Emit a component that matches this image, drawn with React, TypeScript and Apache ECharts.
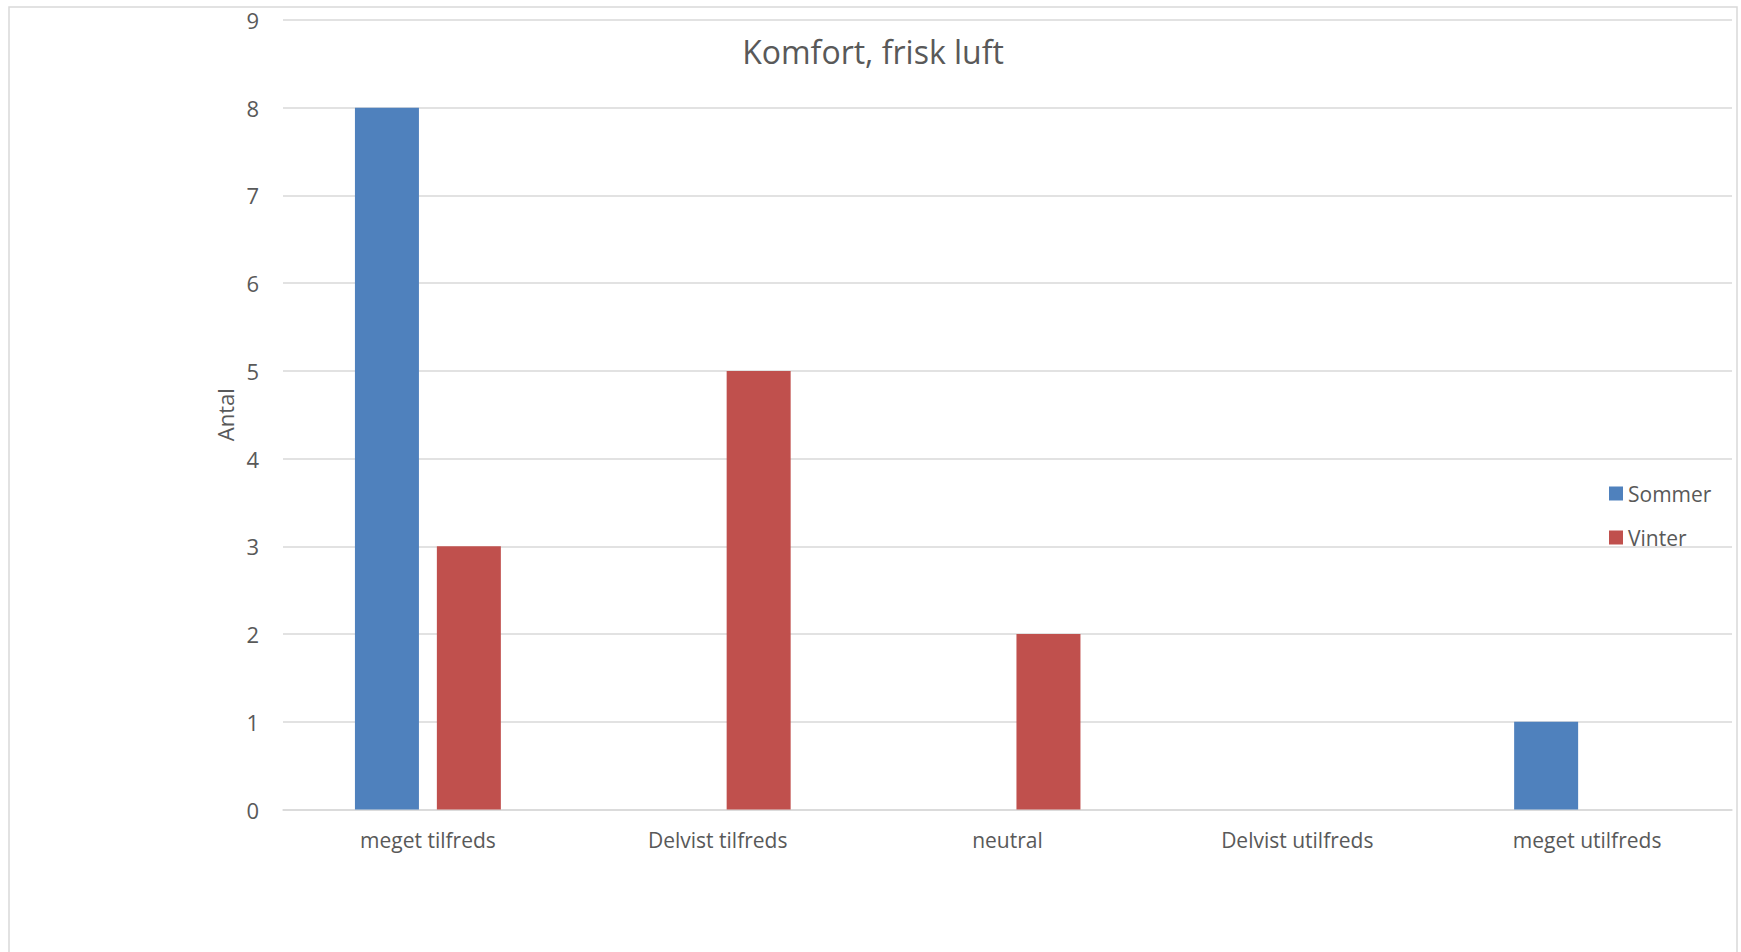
import React, { useEffect, useRef } from "react";
import * as echarts from "echarts";

const categories = ["meget tilfreds", "Delvist tilfreds", "neutral", "Delvist utilfreds", "meget utilfreds"];
const sommer = [8, 0, 0, 0, 1];
const vinter = [3, 5, 2, 0, 0];
const seriesNames = ["Sommer", "Vinter"];
const chartTitle = "Komfort, frisk luft";
const yAxisName = "Antal";

const FONT = '"Open Sans", "Noto Sans", sans-serif';
const TEXT = "#595959";
const GRID = "#D9D9D9";

export default function App() {
  const ref = useRef<HTMLDivElement>(null);
  useEffect(() => {
    if (!ref.current) return;
    const chart = echarts.init(ref.current, undefined, { renderer: "svg" });
    chart.setOption({
      animation: false,
      backgroundColor: "#ffffff",
      textStyle: { fontFamily: FONT, color: TEXT },
      graphic: [
        {
          type: "rect",
          shape: { x: 9, y: 7, width: 1728, height: 980 },
          style: { fill: "none", stroke: GRID, lineWidth: 1.5 },
          silent: true,
        },
        {
          type: "text",
          x: 873,
          y: 51,
          style: {
            text: chartTitle,
            fill: TEXT,
            font: `32px ${FONT}`,
            align: "center",
            verticalAlign: "middle",
          },
        },
      ],
      legend: {
        orient: "vertical",
        left: 1609,
        top: 483,
        padding: 0,
        itemWidth: 14,
        itemHeight: 14,
        itemGap: 23,
        icon: "rect",
        data: seriesNames,
        textStyle: { fontFamily: FONT, fontSize: 21, color: TEXT },
      },
      grid: { left: 283, right: 9, top: 20, bottom: 142.5, containLabel: false },
      xAxis: {
        type: "category",
        data: categories,
        axisLine: { show: true, lineStyle: { color: GRID, width: 1.5 } },
        axisTick: { show: false },
        axisLabel: { fontFamily: FONT, fontSize: 21, color: TEXT, margin: 20 },
        splitLine: { show: false },
      },
      yAxis: {
        type: "value",
        min: 0,
        max: 9,
        interval: 1,
        name: yAxisName,
        nameLocation: "middle",
        nameGap: 45,
        nameTextStyle: { fontFamily: FONT, fontSize: 22, color: TEXT },
        axisLine: { show: false },
        axisTick: { show: false },
        axisLabel: { fontFamily: FONT, fontSize: 22, color: TEXT, margin: 24 },
        splitLine: { show: true, lineStyle: { color: GRID, width: 1.5 } },
      },
      series: [
        {
          name: seriesNames[0],
          type: "bar",
          data: sommer,
          barWidth: 64,
          barGap: "28%",
          itemStyle: { color: "#4F81BD" },
        },
        {
          name: seriesNames[1],
          type: "bar",
          data: vinter,
          barWidth: 64,
          barGap: "28%",
          itemStyle: { color: "#C0504D" },
        },
      ],
    });
    return () => chart.dispose();
  }, []);
  return (
    <div
      ref={ref}
      style={{ position: "fixed", left: 0, top: 0, width: 1741, height: 952 }}
    />
  );
}
